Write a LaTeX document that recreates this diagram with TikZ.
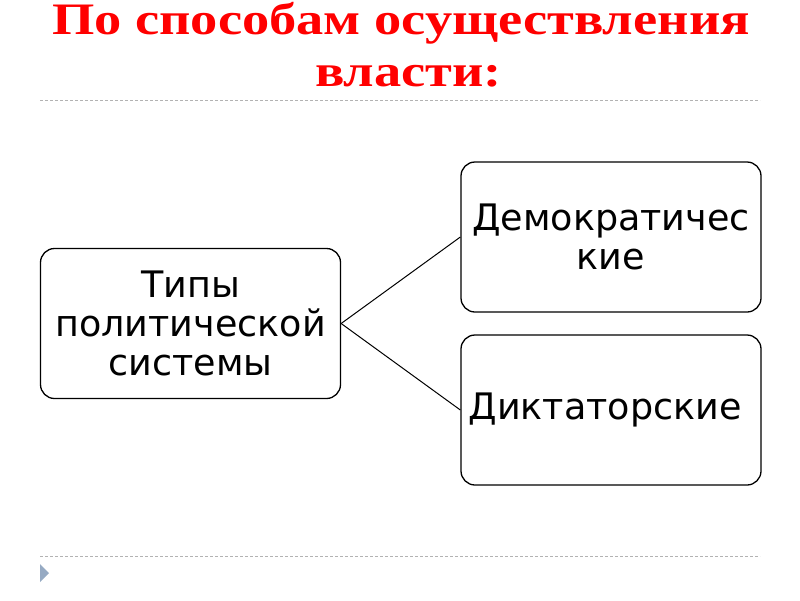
\documentclass[tikz,border=0pt]{standalone}
\usepackage{fontspec}
\setmainfont{DejaVu Sans}
\newfontfamily\titlefont{Liberation Serif}
\definecolor{bullet}{RGB}{150,170,195}
\begin{document}
\begin{tikzpicture}[x=1pt,y=-1pt,
  box/.style={draw=black,line width=1.3pt,rounded corners=14pt,minimum width=300pt,minimum height=150pt,align=center,font=\fontsize{36.5}{39}\selectfont,inner sep=0pt,text width=296pt},
  ttl/.style={text=red,anchor=base,inner sep=0pt,font=\titlefont\bfseries\fontsize{45}{50}\selectfont},
  link/.style={draw=black,line width=1pt},
  sep/.style={draw=black!30,line width=0.8pt,dash pattern=on 3pt off 2pt}]
\useasboundingbox (0,0) rectangle (800,600);
\node[ttl] (t1) at (401,34) {\scalebox{1.21}[1]{По способам осуществления}};
\node[ttl] (t2) at (408.5,86) {\scalebox{1.21}[1]{власти:}};
\coordinate (s1a) at (40,100); \coordinate (s1b) at (760,100);
\draw[sep] (s1a) -- (s1b);
\coordinate (s2a) at (40,556); \coordinate (s2b) at (760,556);
\draw[sep] (s2a) -- (s2b);
\fill[bullet] (40,564) -- (49,573) -- (40,582) -- cycle;
\node[box] (L) at (190.5,323.5) {Типы\\политической\\системы};
\node[box] (D) at (611,237) {Демократичес\\кие};
\node[box] (K) at (611,410) {Диктаторские\rule{12pt}{0pt}};
\draw[link] (L.east) -- (D.west);
\draw[link] (L.east) -- (K.west);
\end{tikzpicture}
\end{document}
